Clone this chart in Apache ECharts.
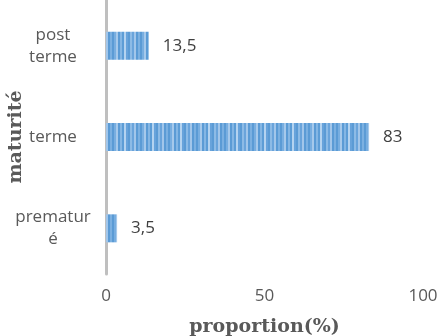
<!DOCTYPE html>
<html>
<head>
<meta charset="utf-8">
<script src="https://cdn.jsdelivr.net/npm/echarts@6/dist/echarts.min.js"></script>
<style>
  html, body { margin: 0; padding: 0; background: #fff; }
  #main { width: 438px; height: 336px; }
</style>
</head>
<body>
<div id="main"></div>
<script>
// data (bottom to top)
var categories = ['prematur\né', 'terme', 'post\nterme']
var values = [3.5, 83, 13.5]
var xTicks = [0, 50, 100]

// striped fill like the original bar
function stripes () {
  var cols = ['#5b9bd5', '#78aee0', '#a6c9eb', '#5b9bd5', '#84b6e4', '#5d9dd6', '#b4d3f0', '#68a3db', '#5b9bd5', '#8dbbe6', '#6aa4db', '#a2c6ea', '#5b9bd5', '#7bb0e1']
  var c = document.createElement('canvas')
  c.width = cols.length * 2
  c.height = 4
  var ctx = c.getContext('2d')
  for (var i = 0; i < cols.length; i++) {
    ctx.fillStyle = cols[i]
    ctx.fillRect(i * 2, 0, 2, 4)
  }
  return c
}

var myChart = echarts.init(document.getElementById('main'))
var option = {
  animation: false,
  grid: { left: 106, right: 15, top: 0, bottom: 62, outerBoundsMode: 'none', containLabel: false },
  xAxis: {
    type: 'value',
    min: xTicks[0],
    max: xTicks[xTicks.length - 1],
    interval: 50,
    name: 'proportion(%)',
    nameLocation: 'middle',
    nameGap: 44,
    nameMoveOverlap: false,
    nameTextStyle: { fontFamily: 'DejaVu Serif', fontWeight: 'bold', fontSize: 19, color: '#595959' },
    axisLine: { show: false },
    axisTick: { show: false },
    splitLine: { show: false },
    axisLabel: { color: '#595959', fontSize: 17, fontFamily: 'Open Sans', margin: 14 }
  },
  yAxis: {
    type: 'category',
    data: categories,
    name: 'maturité',
    nameLocation: 'middle',
    nameRotate: 90,
    nameGap: 80,
    nameMoveOverlap: false,
    nameTextStyle: { fontFamily: 'DejaVu Serif', fontWeight: 'bold', fontSize: 19, color: '#595959' },
    axisLine: { lineStyle: { color: '#bfbfbf', width: 3 } },
    axisTick: { show: false },
    axisLabel: {
      color: '#595959',
      fontSize: 17,
      fontFamily: 'Open Sans',
      align: 'center',
      margin: 53,
      lineHeight: 22
    }
  },
  series: [{
    type: 'bar',
    data: values,
    barWidth: 28,
    itemStyle: { color: { image: stripes(), repeat: 'repeat' } },
    label: {
      show: true,
      position: 'right',
      distance: 14,
      color: '#404040',
      fontSize: 17,
      fontFamily: 'Open Sans',
      formatter: function (p) { return String(p.value).replace('.', ',') }
    }
  }]
}
myChart.setOption(option)
</script>
</body>
</html>
